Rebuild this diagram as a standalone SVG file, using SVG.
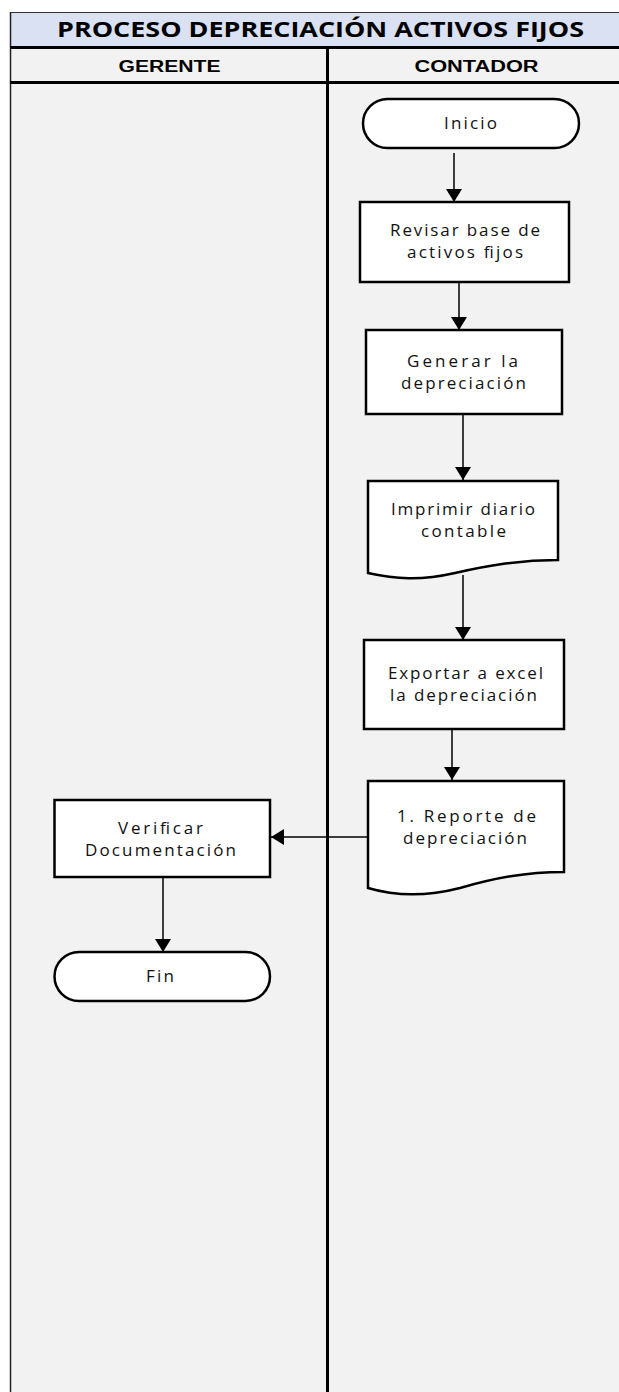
<svg xmlns="http://www.w3.org/2000/svg" width="619" height="1392" viewBox="0 0 619 1392">
<style>
.node{fill:#ffffff;stroke:#000000;stroke-width:2.5}
.t{font-family:"Open Sans","Noto Sans",sans-serif;font-size:17px;fill:#111111;text-anchor:middle}
.hd{font-family:"Liberation Sans",Arial,sans-serif;font-size:16px;font-weight:bold;fill:#000000;text-anchor:middle}
.ttl{font-family:"Open Sans","Noto Sans",sans-serif;font-size:21px;font-weight:bold;fill:#000000;text-anchor:middle}
.c{fill:none;stroke:#000000;stroke-width:1.5;marker-end:url(#ah)}
</style>
<defs>
<marker id="ah" markerUnits="userSpaceOnUse" markerWidth="18" markerHeight="16" viewBox="0 0 13 16" refX="13" refY="8" orient="auto">
<path d="M0,0 L13,8 L0,16 Z" fill="#000000"/>
</marker>
</defs>
<rect x="0" y="0" width="619" height="1392" fill="#ffffff"/>
<g id="pool">
<rect x="10" y="12" width="609" height="1380" fill="#f2f2f2"/>
<rect x="10" y="12" width="609" height="34" fill="#d9e1f2"/>
<line x1="10" y1="12.5" x2="619" y2="12.5" stroke="#333333" stroke-width="1.2"/>
<line x1="10.5" y1="12" x2="10.5" y2="1392" stroke="#222222" stroke-width="1.5"/>
<line x1="10" y1="47.5" x2="619" y2="47.5" stroke="#000000" stroke-width="3"/>
<line x1="10" y1="82.5" x2="619" y2="82.5" stroke="#000000" stroke-width="3"/>
<line x1="327.5" y1="47" x2="327.5" y2="1392" stroke="#000000" stroke-width="3"/>
<text class="ttl" x="320.5" y="37" textLength="527" lengthAdjust="spacingAndGlyphs">PROCESO DEPRECIACIÓN ACTIVOS FIJOS</text>
<text class="hd" x="169.5" y="72" textLength="102" lengthAdjust="spacingAndGlyphs">GERENTE</text>
<text class="hd" x="476.5" y="72" textLength="124" lengthAdjust="spacingAndGlyphs">CONTADOR</text>
</g>
<g id="connectors">
<line class="c" x1="454" y1="153" x2="454" y2="202"/>
<line class="c" x1="459" y1="282" x2="459" y2="330"/>
<line class="c" x1="463" y1="414" x2="463" y2="480"/>
<line class="c" x1="463" y1="575" x2="463" y2="640"/>
<line class="c" x1="452" y1="729" x2="452" y2="780"/>
<line class="c" x1="368" y1="837" x2="271" y2="837"/>
<line class="c" x1="163" y1="877" x2="163" y2="952"/>
</g>
<g id="inicio">
<rect class="node" x="363" y="99" width="216" height="49" rx="24.5"/>
<text class="t" x="470.5" y="129" textLength="53" lengthAdjust="spacing">Inicio</text>
</g>
<g id="revisar">
<rect class="node" x="360" y="202" width="209" height="80"/>
<text class="t" x="465" y="236" textLength="150" lengthAdjust="spacing">Revisar base de</text>
<text class="t" x="465" y="258" textLength="116" lengthAdjust="spacing">activos fijos</text>
</g>
<g id="generar">
<rect class="node" x="366" y="330" width="196" height="84"/>
<text class="t" x="462.5" y="367" textLength="111" lengthAdjust="spacing">Generar  la</text>
<text class="t" x="463.5" y="389" textLength="125" lengthAdjust="spacing">depreciación</text>
</g>
<g id="imprimir">
<path class="node" d="M368,481 H558 V560 C520,560 490,565 455,573 C420,581 395,579 368,573 Z"/>
<text class="t" x="463" y="515" textLength="144" lengthAdjust="spacing">Imprimir diario</text>
<text class="t" x="463.5" y="537" textLength="85" lengthAdjust="spacing">contable</text>
</g>
<g id="exportar">
<rect class="node" x="364" y="640" width="200" height="89"/>
<text class="t" x="465.5" y="679" textLength="155" lengthAdjust="spacing">Exportar a excel</text>
<text class="t" x="463.5" y="701" textLength="147" lengthAdjust="spacing">la depreciación</text>
</g>
<g id="reporte">
<path class="node" d="M368,781 H564 V872 C525,872 495,878 460,888 C425,897 395,896 368,888 Z"/>
<text class="t" x="466.5" y="822" textLength="139" lengthAdjust="spacing">1. Reporte  de</text>
<text class="t" x="465" y="844" textLength="124" lengthAdjust="spacing">depreciación</text>
</g>
<g id="verificar">
<rect class="node" x="54.5" y="800" width="215.5" height="77"/>
<text class="t" x="160.5" y="834" textLength="85" lengthAdjust="spacing">Verificar</text>
<text class="t" x="160.5" y="856" textLength="151" lengthAdjust="spacing">Documentación</text>
</g>
<g id="fin">
<rect class="node" x="54.5" y="952" width="215.5" height="49" rx="24.5"/>
<text class="t" x="160" y="982" textLength="28" lengthAdjust="spacing">Fin</text>
</g>
</svg>
